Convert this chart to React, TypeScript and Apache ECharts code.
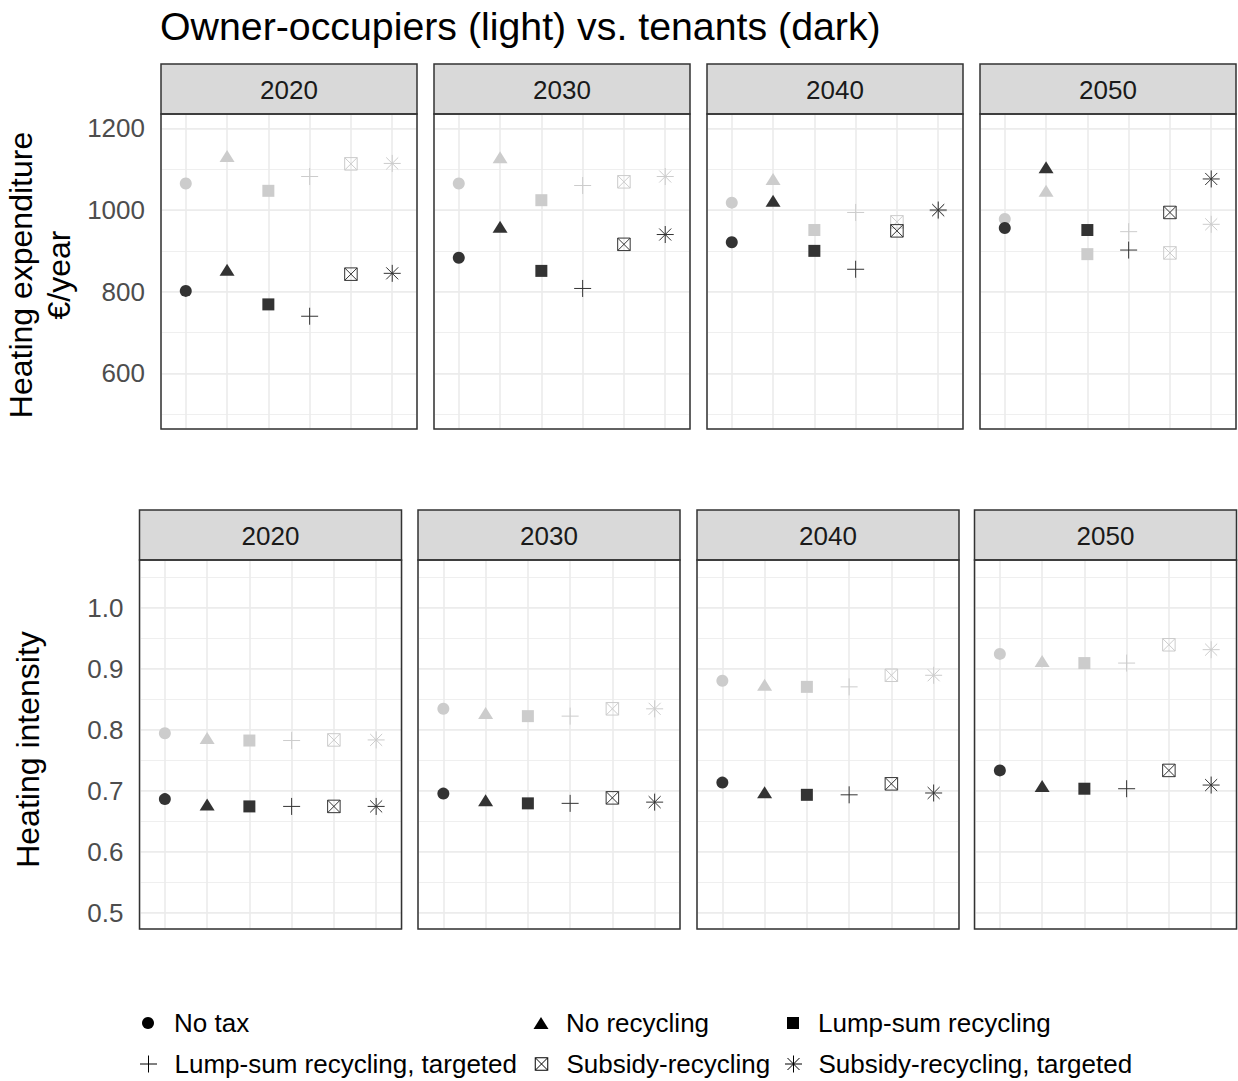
import React, { useEffect, useRef } from 'react';
import * as echarts from 'echarts';

// ---------- data ----------
const years = ['2020', '2030', '2040', '2050'];
const scenarios = [
  'No tax',
  'No recycling',
  'Lump-sum recycling',
  'Lump-sum recycling, targeted',
  'Subsidy-recycling',
  'Subsidy-recycling, targeted',
];

// Heating expenditure (€/year), owner-occupiers (light)
const expOwners2020 = [1065, 1127, 1047, 1082, 1113, 1114];
const expOwners2030 = [1065, 1124, 1024, 1060, 1069, 1082];
const expOwners2040 = [1018, 1071, 951, 994, 971, 998];
const expOwners2050 = [978, 1042, 892, 947, 895, 965];
// Heating expenditure (€/year), tenants (dark)
const expTenants2020 = [802, 849, 769, 740, 843, 845];
const expTenants2030 = [883, 954, 851, 808, 916, 940];
const expTenants2040 = [921, 1018, 900, 855, 949, 1000];
const expTenants2050 = [956, 1100, 951, 902, 994, 1076];

// Heating intensity, owner-occupiers (light)
const intOwners2020 = [0.794, 0.783, 0.782, 0.782, 0.783, 0.783];
const intOwners2030 = [0.834, 0.824, 0.822, 0.822, 0.834, 0.834];
const intOwners2040 = [0.88, 0.87, 0.87, 0.87, 0.889, 0.889];
const intOwners2050 = [0.924, 0.909, 0.909, 0.909, 0.939, 0.931];
// Heating intensity, tenants (dark)
const intTenants2020 = [0.686, 0.674, 0.674, 0.674, 0.674, 0.674];
const intTenants2030 = [0.695, 0.681, 0.679, 0.679, 0.688, 0.681];
const intTenants2040 = [0.713, 0.694, 0.693, 0.693, 0.711, 0.696];
const intTenants2050 = [0.733, 0.704, 0.703, 0.703, 0.733, 0.709];

const expOwners = [expOwners2020, expOwners2030, expOwners2040, expOwners2050];
const expTenants = [expTenants2020, expTenants2030, expTenants2040, expTenants2050];
const intOwners = [intOwners2020, intOwners2030, intOwners2040, intOwners2050];
const intTenants = [intTenants2020, intTenants2030, intTenants2040, intTenants2050];

// ---------- styles ----------
const LIGHT = '#cccccc';
const DARK = '#333333';
const GRID = '#ebebeb';
const BORDER = '#333333';
const FONT = "'Liberation Sans', Arial, Helvetica, sans-serif";

const PLUS = 'path://M0 5 L10 5 M5 0 L5 10';
const BOXX = 'path://M0 0 L10 0 L10 10 L0 10 Z M0 0 L10 10 M10 0 L0 10';
const AST = 'path://M5 0 L5 10 M0 5 L10 5 M1.464 1.464 L8.536 8.536 M8.536 1.464 L1.464 8.536';

const shapes: any[] = [
  { symbol: 'circle', size: [12, 12], filled: true, offset: [0, 0] },
  { symbol: 'triangle', size: [15, 12], filled: true, offset: [0, -2] },
  { symbol: 'rect', size: [12, 12], filled: true, offset: [0, 0] },
  { symbol: PLUS, size: [17, 17], filled: false, offset: [0, 0] },
  { symbol: BOXX, size: [12.5, 12.5], filled: false, offset: [0, 0] },
  { symbol: AST, size: [17, 17], filled: false, offset: [0, 0] },
];

const rows: any[] = [
  {
    top: 114, height: 315, stripTop: 64, stripH: 50,
    lefts: [161, 434, 707, 980], width: 256,
    min: 464, max: 1235, major: 4, minor: 8, labelMargin: 16,
    fmt: (v: number) => (Math.abs(v % 200) < 1e-6 ? String(v) : ''),
    name: 'Heating expenditure\n€/year', nameGap: 83, nameShift: 7, nameLH: 38,
    owners: expOwners, tenants: expTenants,
  },
  {
    top: 560, height: 369, stripTop: 510, stripH: 50,
    lefts: [139.5, 418, 697, 974.5], width: 262,
    min: 0.473, max: 1.078, major: 6, minor: 12, labelMargin: 16,
    fmt: (v: number) => (Math.abs(v * 10 - Math.round(v * 10)) < 1e-6 ? v.toFixed(1) : ''),
    name: 'Heating intensity', nameGap: 93, nameShift: 10, nameLH: 38,
    owners: intOwners, tenants: intTenants,
  },
];

const legendPos = [
  { cx: 148, tx: 174, cy: 1023 },
  { cx: 541, tx: 566, cy: 1023 },
  { cx: 793, tx: 818, cy: 1023 },
  { cx: 148, tx: 174, cy: 1064 },
  { cx: 541, tx: 566, cy: 1064 },
  { cx: 793, tx: 818, cy: 1064 },
];

function buildOption() {
  const grid: any[] = [];
  const xAxis: any[] = [];
  const yAxis: any[] = [];
  const series: any[] = [];
  const graphic: any[] = [];

  rows.forEach((row) => {
    row.lefts.forEach((left: number, c: number) => {
      const gi = grid.length;
      grid.push({ left, top: row.top, width: row.width, height: row.height, show: false });
      xAxis.push({
        gridIndex: gi, type: 'value', min: 0.4, max: 6.6, splitNumber: 6,
        axisLine: { show: false }, axisTick: { show: false }, axisLabel: { show: false },
        splitLine: { show: true, lineStyle: { color: GRID, width: 1.6 } },
      });
      const yi = yAxis.length;
      yAxis.push({
        gridIndex: gi, type: 'value', min: row.min, max: row.max, splitNumber: row.major,
        position: 'left',
        axisLine: { show: false }, axisTick: { show: false },
        axisLabel: {
          show: c === 0, formatter: row.fmt, color: '#4d4d4d', fontSize: 26,
          fontFamily: FONT, margin: row.labelMargin,
        },
        splitLine: { show: true, lineStyle: { color: GRID, width: 1.6 } },
        name: c === 0 ? row.name : '',
        nameLocation: 'middle', nameRotate: 90, nameGap: row.nameGap,
        nameTextStyle: {
          fontSize: 32, color: '#000', fontFamily: FONT, lineHeight: row.nameLH,
          padding: [0, row.nameShift, 0, 0],
        },
      });
      yAxis.push({
        gridIndex: gi, type: 'value', min: row.min, max: row.max, splitNumber: row.minor,
        position: 'right',
        axisLine: { show: false }, axisTick: { show: false }, axisLabel: { show: false },
        splitLine: { show: true, lineStyle: { color: GRID, width: 0.8 } },
      });

      shapes.forEach((sh, k) => {
        const lightVal = row.owners[c][k];
        const darkVal = row.tenants[c][k];
        const mk = (v: number, col: string) => ({
          value: [k + 1, v],
          itemStyle: sh.filled ? { color: col, opacity: 1 } : { borderColor: col, opacity: 1 },
        });
        series.push({
          type: 'scatter',
          name: scenarios[k],
          xAxisIndex: gi,
          yAxisIndex: yi,
          symbol: sh.symbol,
          symbolSize: sh.size,
          symbolOffset: sh.offset,
          silent: true,
          emphasis: { disabled: true },
          itemStyle: sh.filled
            ? { color: '#000', borderWidth: 0, opacity: 1 }
            : { color: 'rgba(0,0,0,0)', borderColor: '#000', borderWidth: 1, opacity: 1 },
          data: [mk(lightVal, LIGHT), mk(darkVal, DARK)],
          z: 3,
        });
      });

      // strip
      graphic.push({
        type: 'rect',
        shape: { x: left, y: row.stripTop, width: row.width, height: row.stripH },
        style: { fill: '#d9d9d9', stroke: BORDER, lineWidth: 1.5 },
        z: 100,
        silent: true,
      });
      graphic.push({
        type: 'text',
        x: left + row.width / 2,
        y: row.stripTop + row.stripH / 2 + 1,
        style: {
          text: years[c], fill: '#1a1a1a', font: `26px ${FONT}`,
          align: 'center', verticalAlign: 'middle',
        },
        z: 101,
        silent: true,
      });
      // panel border
      graphic.push({
        type: 'rect',
        shape: { x: left, y: row.top, width: row.width, height: row.height },
        style: { fill: 'rgba(0,0,0,0)', stroke: BORDER, lineWidth: 1.5 },
        z: 100,
        silent: true,
      });
    });
  });

  const legend = scenarios.map((name, k) => {
    const sh = shapes[k];
    const p = legendPos[k];
    const w = sh.size[0];
    const h = sh.size[1];
    const left = p.cx - w / 2;
    return {
      data: [name],
      left,
      top: p.cy - 15,
      padding: 0,
      itemWidth: w,
      itemHeight: h,
      selectedMode: false,
      itemStyle: sh.filled
        ? { color: '#000', borderWidth: 0, opacity: 1 }
        : { color: 'rgba(0,0,0,0)', borderColor: '#000', borderWidth: 1, opacity: 1 },
      textStyle: {
        fontSize: 26, color: '#000', fontFamily: FONT, lineHeight: 30,
        padding: [0, 0, 0, p.tx - (left + w + 5)],
      },
    };
  });

  return {
    animation: false,
    backgroundColor: '#ffffff',
    title: {
      text: 'Owner-occupiers (light) vs. tenants (dark)',
      left: 160,
      top: 6,
      padding: 0,
      textStyle: { fontSize: 39.3, fontWeight: 'normal', color: '#000', fontFamily: FONT },
    },
    legend,
    grid,
    xAxis,
    yAxis,
    series,
    graphic,
  };
}

export default function App() {
  const ref = useRef<HTMLDivElement>(null);
  useEffect(() => {
    if (!ref.current) return;
    const chart = echarts.init(ref.current, undefined, { renderer: 'svg' });
    chart.setOption(buildOption() as any);
    return () => chart.dispose();
  }, []);
  return (
    <div
      ref={ref}
      style={{ position: 'absolute', left: 0, top: 0, width: 1238, height: 1081, background: '#fff' }}
    />
  );
}
